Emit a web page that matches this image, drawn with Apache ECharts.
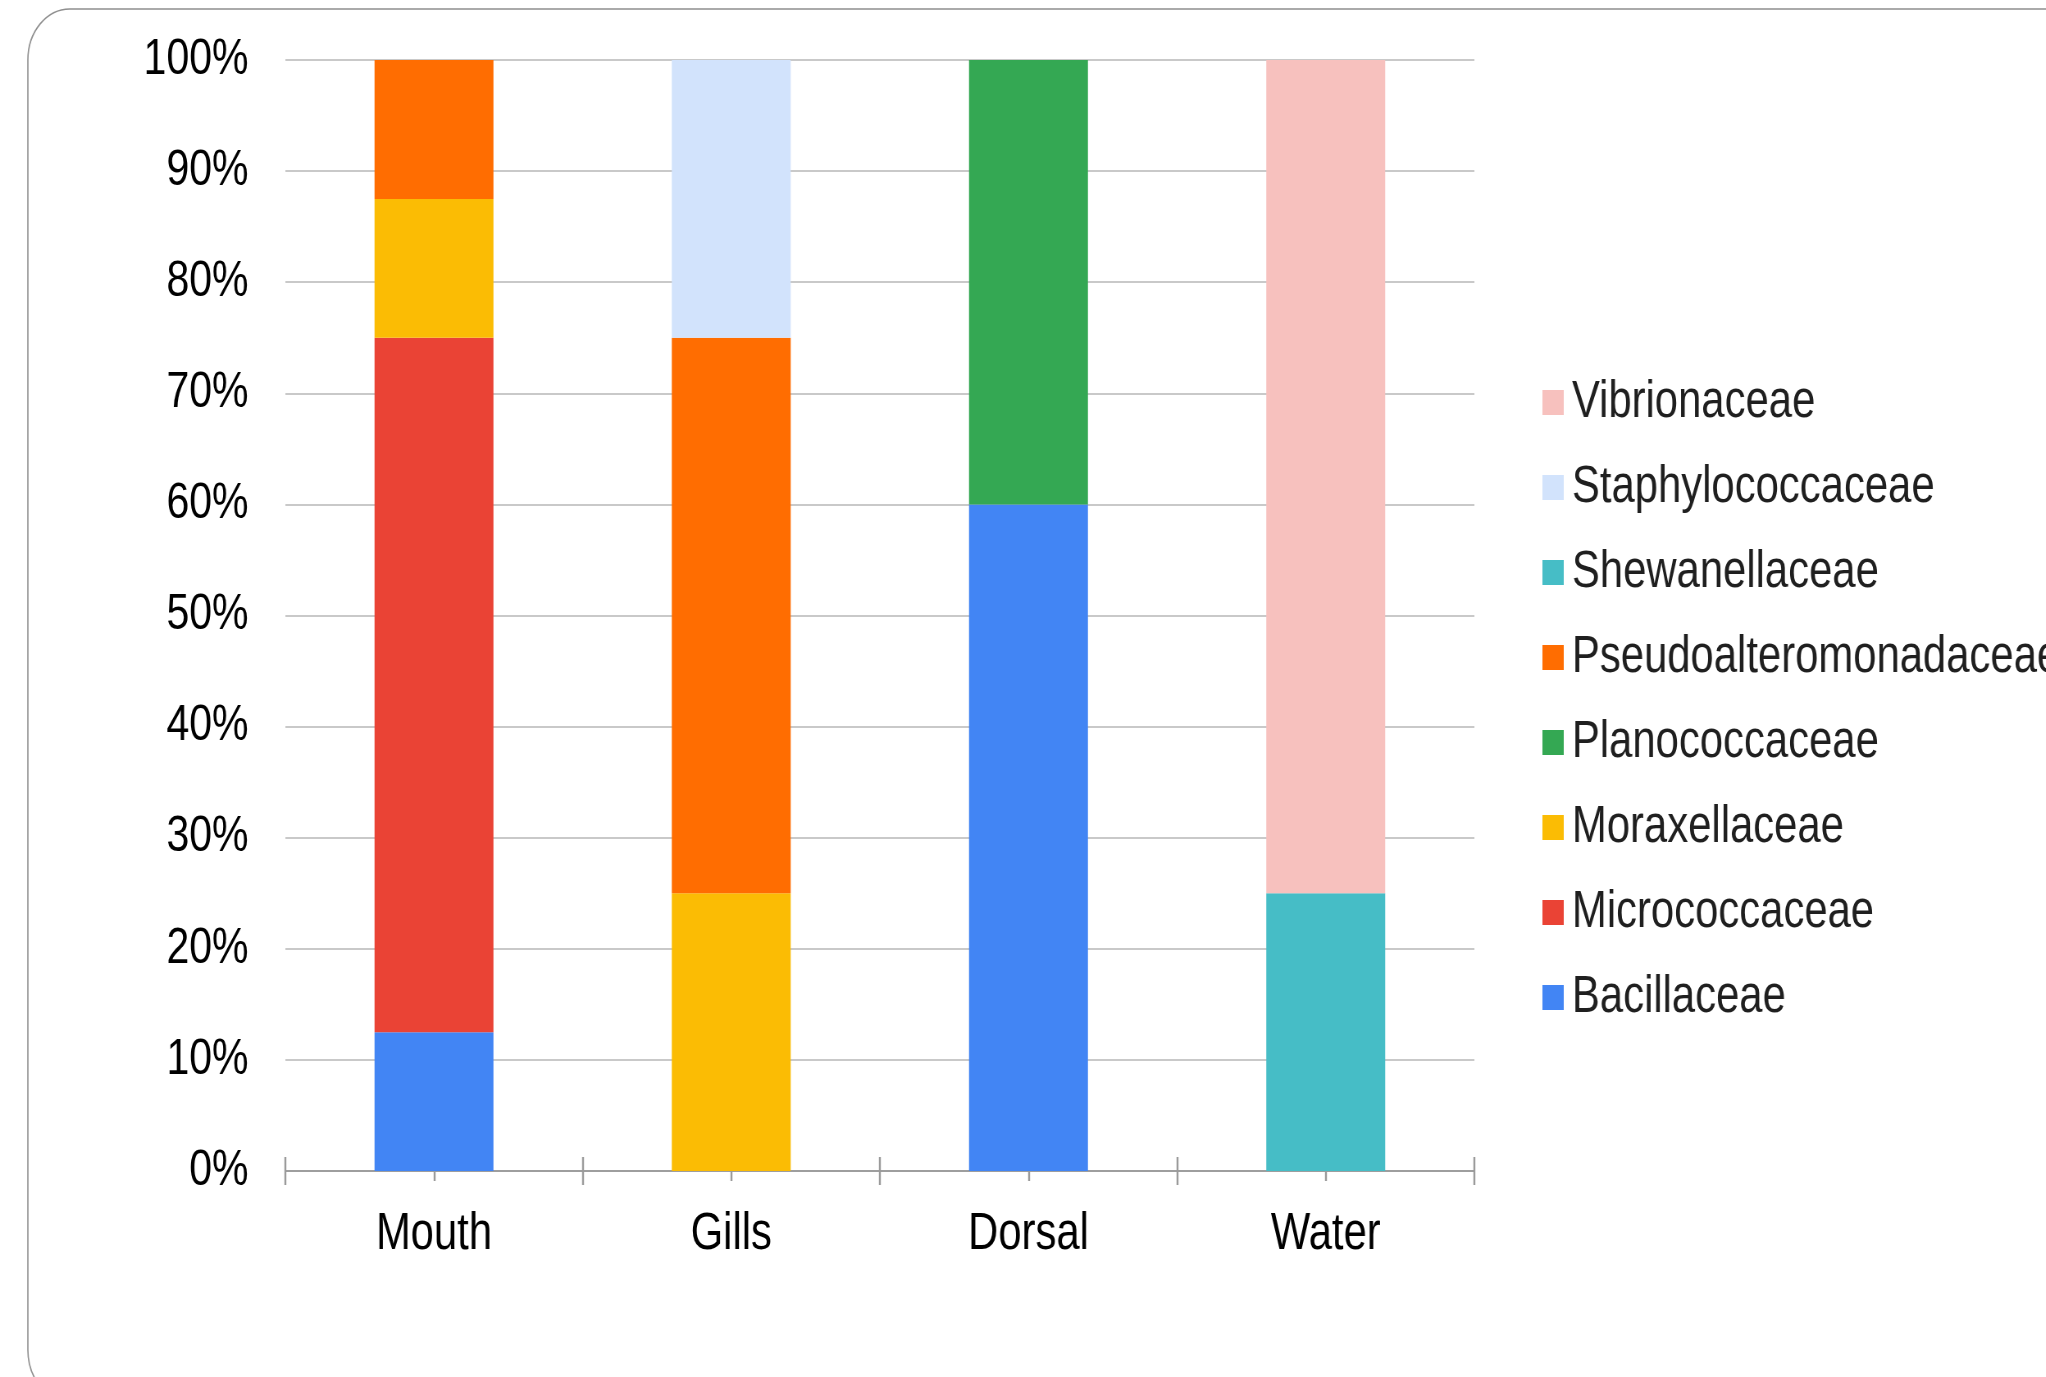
<!DOCTYPE html>
<html>
<head>
<meta charset="utf-8">
<title>Bacterial families by sample site</title>
<script src="https://cdn.jsdelivr.net/npm/echarts@6/dist/echarts.min.js"></script>
<style>
  html, body { margin: 0; padding: 0; background: #ffffff; overflow: hidden; }
  #frame { width: 2046px; height: 1377px; overflow: hidden; position: relative; }
  /* The chart is laid out wider and compressed horizontally so that the
     lettering comes out in a condensed style. */
  #chart { width: 2495px; height: 1377px; transform: scaleX(0.82); transform-origin: 0 0; }
</style>
</head>
<body>
<div id="frame"><div id="chart"></div></div>
<script>
// Sample sites
const categories = ['Mouth', 'Gills', 'Dorsal', 'Water'];

// Relative abundance (%) of each family per site, bottom of the stack first
const bacillaceae            = [12.5, 0, 60, 0];
const micrococcaceae         = [62.5, 0, 0, 0];
const moraxellaceae          = [12.5, 25, 0, 0];
const planococcaceae         = [0, 0, 40, 0];
const pseudoalteromonadaceae = [12.5, 50, 0, 0];
const shewanellaceae         = [0, 0, 0, 25];
const staphylococcaceae      = [0, 25, 0, 0];
const vibrionaceae           = [0, 0, 0, 75];

// Family names and colours, in stacking order
const families = ['Bacillaceae', 'Micrococcaceae', 'Moraxellaceae', 'Planococcaceae',
                  'Pseudoalteromonadaceae', 'Shewanellaceae', 'Staphylococcaceae', 'Vibrionaceae'];
const familyValues = [bacillaceae, micrococcaceae, moraxellaceae, planococcaceae,
                      pseudoalteromonadaceae, shewanellaceae, staphylococcaceae, vibrionaceae];
const familyColors = ['#4285F4', '#EA4335', '#FBBC04', '#34A853',
                      '#FF6D01', '#46BDC6', '#D2E3FC', '#F7C1BE'];

// Value axis range and step (percent)
const yMin = 0;
const yMax = 100;
const yStep = 10;

const FONT = "'Liberation Sans', Arial, sans-serif";

const chart = echarts.init(document.getElementById('chart'), null, { renderer: 'canvas' });

// Extra category axes that only draw tick marks (both sides of the baseline,
// at category boundaries and at category centres)
function tickAxis(inside, alignWithLabel, length) {
  return {
    type: 'category',
    data: categories,
    position: 'bottom',
    offset: 0,
    axisLine: { show: false },
    axisLabel: { show: false },
    splitLine: { show: false },
    axisTick: {
      show: true,
      inside: inside,
      alignWithLabel: alignWithLabel,
      length: length,
      lineStyle: { color: '#9a9a9a', width: 2.4 }
    }
  };
}

const option = {
  backgroundColor: '#ffffff',
  animation: false,
  textStyle: { fontFamily: FONT },
  graphic: [{
    type: 'rect',
    shape: { x: 34, y: 9, width: 2700, height: 1392, r: 51 },
    style: { fill: 'none', stroke: '#8f8f8f', lineWidth: 1.6 },
    silent: true,
    z: -10
  }],
  grid: { left: 348, right: 697, top: 60, bottom: 206, containLabel: false },
  legend: {
    orient: 'vertical',
    left: 1876,
    top: 372,
    itemWidth: 26,
    itemHeight: 25,
    itemGap: 34,
    icon: 'rect',
    data: families.slice().reverse(),
    textStyle: { fontFamily: FONT, fontSize: 51, color: '#1f1f1f', padding: [0, 0, 0, 5] }
  },
  xAxis: [
    {
      type: 'category',
      data: categories,
      position: 'bottom',
      axisLine: { show: true, lineStyle: { color: '#9e9e9e', width: 2 } },
      axisTick: { show: true, length: 14, lineStyle: { color: '#9a9a9a', width: 2.4 } },
      axisLabel: { fontFamily: FONT, fontSize: 51, color: '#000000', margin: 38 },
      splitLine: { show: false }
    },
    tickAxis(true, false, 14),
    tickAxis(false, true, 10),
    tickAxis(true, true, 10)
  ],
  yAxis: {
    type: 'value',
    min: yMin,
    max: yMax,
    interval: yStep,
    axisLine: { show: false },
    axisTick: { show: false },
    axisLabel: {
      fontFamily: FONT,
      fontSize: 50,
      color: '#000000',
      margin: 45,
      padding: [0, 0, 8, 0],
      formatter: '{value}%'
    },
    splitLine: { show: true, lineStyle: { color: '#b7b7b7', width: 1.5 } }
  },
  series: families.map((name, i) => ({
    name: name,
    type: 'bar',
    stack: 'total',
    xAxisIndex: 0,
    barWidth: '40%',
    itemStyle: { color: familyColors[i] },
    data: familyValues[i]
  }))
};

chart.setOption(option);
</script>
</body>
</html>
